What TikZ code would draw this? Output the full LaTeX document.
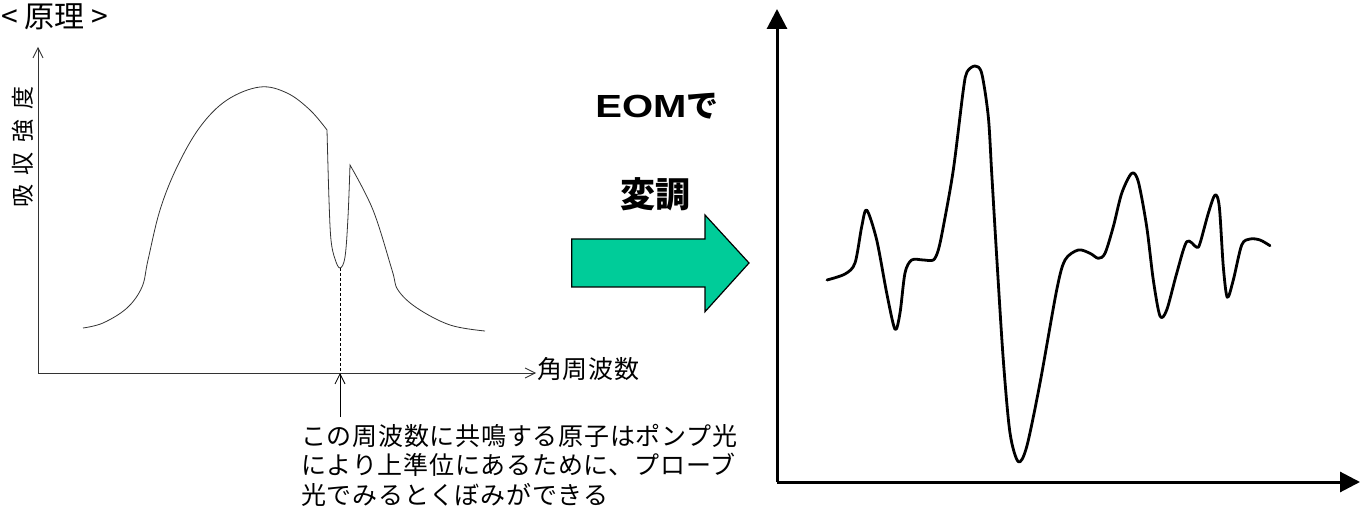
\documentclass[tikz,border=0pt]{standalone}
\usepackage{fontspec}
\usepackage{graphicx}
\usetikzlibrary{arrows.meta}
\newfontfamily\jp{Noto Sans CJK JP}
\newfontfamily\jpsp{Noto Sans CJK JP}[LetterSpace=3]
\newfontfamily\libs{Liberation Sans}
\definecolor{arrowgreen}{HTML}{00CC99}
\definecolor{thingray}{HTML}{333333}
\tikzset{
  thin axis/.style={line width=0.8pt, draw=thingray, -{Straight Barb[length=10pt,width=10pt,line width=0.8pt]}},
  thick axis/.style={line width=3pt, draw=black, -{Triangle[length=20pt,width=20pt]}},
  spectrum/.style={line width=0.8pt, draw=thingray},
  signal/.style={line width=2.8pt, draw=black, line join=round, line cap=round},
  jtext/.style={inner sep=0pt, font=\fontsize{25}{29.4}\jpsp\selectfont},
}
\begin{document}
\begin{tikzpicture}[x=1pt,y=-1pt]
\useasboundingbox (0,0) rectangle (1369,513);
% title
\node[anchor=west, inner sep=0pt, font=\fontsize{30}{32}\jp\selectfont] (title) at (1,17) {< 原理 >};
% left axes
\coordinate (O1) at (38,373);
\coordinate (Y1) at (38,47);
\coordinate (X1) at (536,373);
\draw[thin axis] (O1) -- (Y1);
\draw[thin axis] (O1) -- (X1);
\node[rotate=90, inner sep=0pt, font=\fontsize{23}{25}\jp\selectfont] (ylab) at (23,147) {吸\hspace{10pt}収\hspace{10pt}強\hspace{10pt}度};
\node[jtext, anchor=west] (xlab) at (537,369) {角周波数};
% spectrum curve
\draw[spectrum] plot[smooth, tension=0.6] coordinates {(83,328) (103,323) (127,308) (142,287) (148,260) (160,210) (177,167) (200,127) (227,100) (260,87) (287,93) (310,110) (327,130)}
  -- plot[smooth, tension=0.6] coordinates {(327,130) (329,200) (331,240) (335,259) (340,268) (345,257) (348,217) (350,165)}
  -- plot[smooth, tension=0.6] coordinates {(350,165) (373,210) (392,270) (398,290) (417,308) (450,325) (485,331)};
\coordinate (dip) at (340,268);
\coordinate (dipaxis) at (340,373);
\coordinate (notetop) at (340,417);
\draw[line width=0.8pt, draw=black, dash pattern=on 3pt off 2pt] (dip) -- (dipaxis);
\draw[thin axis, draw=black] (notetop) -- (dipaxis);
\node[jtext, anchor=north west, align=left] (note) at (301,424) {この周波数に共鳴する原子はポンプ光\\により上準位にあるために、プローブ\\光でみるとくぼみができる};
% EOM labels and arrow
\node[inner sep=0pt, font=\fontsize{32}{34}\selectfont\bfseries] (eom) at (657,106) {\scalebox{1.25}[1]{\libs\bfseries EOM}\jp\bfseries で};
\node[inner sep=0pt, font=\fontsize{35}{38}\jp\selectfont\bfseries] (mod) at (655,194) {変調};
\draw[fill=arrowgreen, draw=black, line width=1.2pt, line join=miter] (571.7,239) -- (705,239) -- (705,215) -- (749,263) -- (705,311.7) -- (705,287) -- (571.7,287) -- cycle;
% right axes
\coordinate (O2) at (777,482);
\coordinate (Y2) at (777,9);
\coordinate (X2) at (1360,482);
\draw[thick axis] (O2) -- (Y2);
\draw[thick axis] (O2) -- (X2);
% modulated signal
\draw[signal] plot[smooth, tension=0.5] coordinates {
(827,280) (845,274) (855,263) (861.7,226.7) (866.7,210) (876.7,240) (886.7,293) (895,329.3) (900,313) (905,273) (911.7,260) (923.3,260) (933.3,260) (938.3,250) (943.3,226.7) (953.3,170) (963.3,90) (967,72) (975,66) (981.7,73.3) (988.3,116.7) (991.7,173) (996.7,256.7) (1003.3,360) (1010,433) (1018.3,461.7) (1026.7,446.7) (1040,383) (1056.7,290) (1065,260) (1078.3,250) (1090,253.3) (1098.3,258.3) (1105,253.3) (1113.3,226.7) (1121.7,193.3) (1131.7,173.3) (1138.3,181.7) (1146.7,226.7) (1153.3,280) (1160,316) (1166.7,310) (1176.7,273.3) (1186.7,241.7) (1196.7,247.3) (1200,243.3) (1208.3,213.3) (1215,195) (1219.3,206.7) (1223.3,266.7) (1227.3,297.3) (1233.3,280) (1241.7,245) (1250,239) (1260,240) (1270,245.7)};
\end{tikzpicture}
\end{document}
